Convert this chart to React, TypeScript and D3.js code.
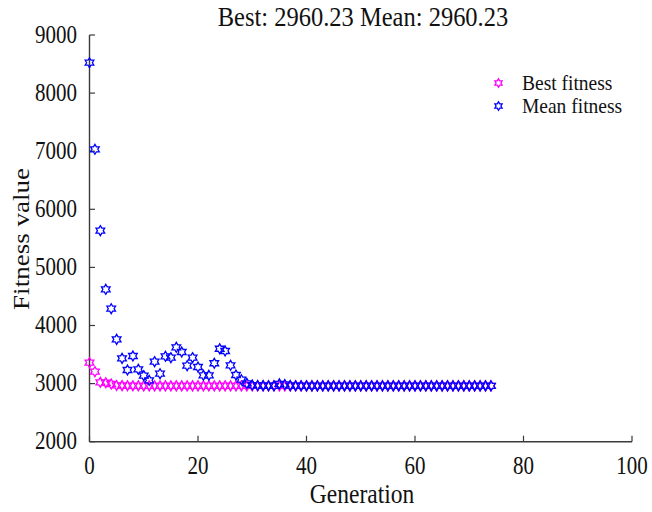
import React from "react";
import * as d3 from "d3";

const generations: number[] = Array.from({ length: 75 }, (_, i) => i);

const bestFitness: number[] = [
  3360, 3205, 3022, 3015, 2993, 2968, 2965, 2963, 2962, 2962,
  2961, 2961, 2961, 2961, 2961, 2961, 2960.5, 2960.5, 2960.5, 2960.5,
  2960.5, 2960.5, 2960.5, 2960.5, 2960.5, 2960.5, 2960.5, 2960.5, 2960.5, 2960.5,
  2960.23, 2960.23, 2960.23, 2960.23, 2960.23, 2960.23, 2960.23, 2960.23, 2960.23, 2960.23,
  2960.23, 2960.23, 2960.23, 2960.23, 2960.23, 2960.23, 2960.23, 2960.23, 2960.23, 2960.23,
  2960.23, 2960.23, 2960.23, 2960.23, 2960.23, 2960.23, 2960.23, 2960.23, 2960.23, 2960.23,
  2960.23, 2960.23, 2960.23, 2960.23, 2960.23, 2960.23, 2960.23, 2960.23, 2960.23, 2960.23,
  2960.23, 2960.23, 2960.23, 2960.23, 2960.23,
];

const meanFitness: number[] = [
  8523, 7033, 5632, 4623, 4289, 3762, 3435, 3234, 3475, 3246,
  3136, 3057, 3377, 3170, 3470, 3446, 3625, 3544, 3308, 3446,
  3286, 3143, 3143, 3350, 3600, 3561, 3315, 3148, 3067, 3005,
  2975, 2968, 2965, 2963, 2962, 2995, 2985, 2966, 2963, 2962,
  2961, 2961, 2961, 2961, 2961, 2960.5, 2960.5, 2960.5, 2960.5, 2960.5,
  2960.5, 2960.5, 2960.5, 2960.5, 2960.5, 2960.5, 2960.5, 2960.5, 2960.5, 2960.5,
  2960.23, 2960.23, 2960.23, 2960.23, 2960.23, 2960.23, 2960.23, 2960.23, 2960.23, 2960.23,
  2960.23, 2960.23, 2960.23, 2960.23, 2960.23,
];

const xTicks: number[] = [0, 20, 40, 60, 80, 100];
const yTicks: number[] = [2000, 3000, 4000, 5000, 6000, 7000, 8000, 9000];
const seriesNames: string[] = ["Best fitness", "Mean fitness"];
const seriesColors: string[] = ["#ff00ff", "#0000ff"];
const titleText = "Best: 2960.23 Mean: 2960.23";
const xLabel = "Generation";
const yLabel = "Fitness value";

const W = 652;
const H = 512;
const FONT = "'Liberation Serif', 'Times New Roman', serif";
const SY = 1.15;

function hexagram(r: number): string {
  const ri = r / Math.sqrt(3);
  const pts: [number, number][] = [];
  for (let k = 0; k < 12; k++) {
    const a = (Math.PI / 6) * k - Math.PI / 2;
    const rr = k % 2 === 0 ? r : ri;
    pts.push([rr * Math.cos(a), rr * Math.sin(a)]);
  }
  return (d3.line()(pts) || "") + "Z";
}

export default function App() {
  const x = d3.scaleLinear().domain([0, 100]).range([89.5, 632]);
  const y = d3.scaleLinear().domain([2000, 9000]).range([441.7, 35]);
  const marker = hexagram(5);
  const legendMarker = hexagram(4.2);
  const axisColor = "#3a3a3a";

  const series = [bestFitness, meanFitness];

  return (
    <svg
      width={W}
      height={H}
      style={{ position: "absolute", left: 0, top: 0, background: "#fff" }}
      fontFamily={FONT}
    >
      <rect width={W} height={H} fill="#fff" />
      {/* axes */}
      <line x1={x(0)} x2={x(0)} y1={y(9000)} y2={y(2000)} stroke={axisColor} strokeWidth={1.4} />
      <line x1={x(0)} x2={x(100)} y1={y(2000)} y2={y(2000)} stroke={axisColor} strokeWidth={1.4} />
      {yTicks.map((t) => (
        <g key={"y" + t}>
          <line x1={x(0)} x2={x(0) + 5.5} y1={y(t)} y2={y(t)} stroke={axisColor} strokeWidth={1.2} />
          <text
            transform={`translate(77,${y(t) + 7.5}) scale(1,${SY})`}
            textAnchor="end"
            fontSize={21}
            fill="#111"
          >
            {t}
          </text>
        </g>
      ))}
      {xTicks.map((t) => (
        <g key={"x" + t}>
          <line x1={x(t)} x2={x(t)} y1={y(2000)} y2={y(2000) - 6} stroke={axisColor} strokeWidth={1.2} />
          <text
            transform={`translate(${x(t)},${474}) scale(1,${SY})`}
            textAnchor="middle"
            fontSize={21}
            fill="#111"
          >
            {t}
          </text>
        </g>
      ))}
      {/* title and labels */}
      <text
        transform={`translate(363,26) scale(1,${SY})`}
        textAnchor="middle"
        fontSize={24.5}
        fill="#111"
      >
        {titleText}
      </text>
      <text
        transform={`translate(362,503) scale(1,${SY})`}
        textAnchor="middle"
        fontSize={23.5}
        fill="#111"
      >
        {xLabel}
      </text>
      <text
        transform={`translate(29,239) rotate(-90) scale(${SY},1)`}
        textAnchor="middle"
        fontSize={23.5}
        fill="#111"
      >
        {yLabel}
      </text>
      {/* data */}
      {series.map((vals, si) => (
        <g key={"s" + si}>
          {vals.map((v, i) => (
            <path
              key={i}
              d={marker}
              transform={`translate(${x(generations[i])},${y(v)})`}
              fill="none"
              stroke={seriesColors[si]}
              strokeWidth={1.3}
            />
          ))}
        </g>
      ))}
      {/* legend */}
      {seriesNames.map((name, i) => (
        <g key={"l" + i}>
          <path
            d={legendMarker}
            transform={`translate(498.5,${83 + i * 23})`}
            fill="none"
            stroke={seriesColors[i]}
            strokeWidth={1.3}
          />
          <text
            transform={`translate(522,${89.5 + i * 23}) scale(1,1.06)`}
            fontSize={19.5}
            fill="#111"
          >
            {name}
          </text>
        </g>
      ))}
    </svg>
  );
}
